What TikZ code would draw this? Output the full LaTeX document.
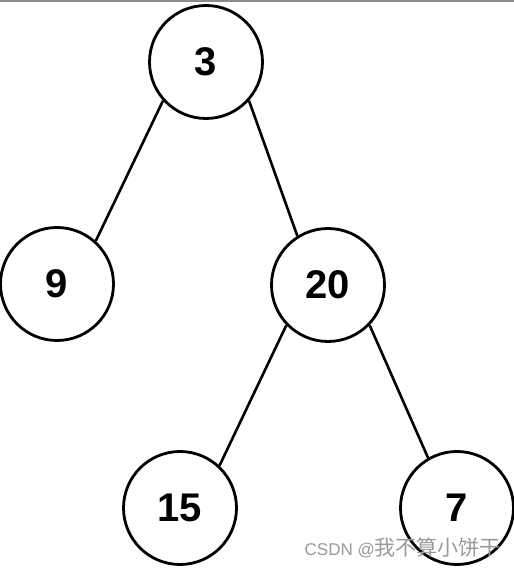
\documentclass[tikz,border=0pt]{standalone}
\usepackage{fontspec}
\setmainfont{Liberation Sans}
\newfontfamily\cjk{Noto Sans CJK SC}
\begin{document}
\begin{tikzpicture}[x=1pt,y=1pt,
    vertex/.style={draw,circle,line width=2.8pt,minimum size=113pt,inner sep=0pt,
                   font=\fontsize{40}{48}\selectfont\bfseries},
    branch/.style={line width=2.6pt}]
    \useasboundingbox (0,0) rectangle (514,568);
    % 顶部灰线
    \fill[gray!90] (0,566) rectangle (514,568);
    % 结点
    \node[vertex] (n3)  at (206,506) {3};
    \node[vertex] (n9)  at (57,284)  {9};
    \node[vertex] (n20) at (328,283) {20};
    \node[vertex] (n15) at (180,60)  {15};
    \node[vertex] (n7)  at (457,60)  {7};
    % 边
    \draw[branch] (n3.222) -- (n9.48);
    \draw[branch] (n3.-42) -- (n20.122);
    \draw[branch] (n20.224) -- (n15.47);
    \draw[branch] (n20.-44) -- (n7.120);
    % 水印
    \node[anchor=east,text=black!40,inner sep=0pt] (mark) at (501,20)
        {\fontsize{17}{20}\selectfont CSDN @{\cjk\fontsize{21}{24}\selectfont 我不算小饼干}};
\end{tikzpicture}
\end{document}
